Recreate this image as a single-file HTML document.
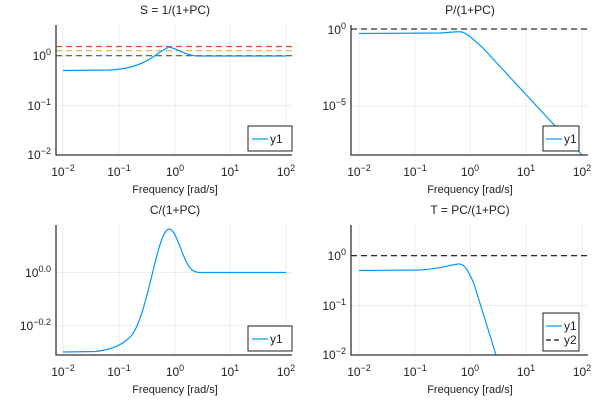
<!DOCTYPE html>
<html><head><meta charset="utf-8"><style>
body{margin:0;background:#fff}
svg{display:block;font-family:"Liberation Sans","DejaVu Sans",sans-serif}
.t{font-size:12px;fill:#222;text-anchor:middle}
.xl{font-size:11px;fill:#222;text-anchor:middle}
.tk{font-size:12px;fill:#222}
.g{stroke:#000;stroke-opacity:0.09;stroke-width:0.8}
.ax{stroke:#333;stroke-width:1.3;fill:none}
.b{stroke:#009AFA;stroke-width:1.2;fill:none}
.sup{font-size:9px}
</style></head><body>
<svg width="600" height="400" viewBox="0 0 600 400">
<!-- Panel 1 -->
<text class="t" x="175" y="14">S = 1/(1+PC)</text>
<g class="g"><line x1="63" y1="25" x2="63" y2="155"/><line x1="119" y1="25" x2="119" y2="155"/><line x1="175" y1="25" x2="175" y2="155"/><line x1="230" y1="25" x2="230" y2="155"/><line x1="286" y1="25" x2="286" y2="155"/>
<line x1="56" y1="56" x2="292" y2="56"/><line x1="56" y1="105.5" x2="292" y2="105.5"/></g>
<line x1="56" y1="46.5" x2="292" y2="46.5" stroke="#e8443a" stroke-width="1.2" stroke-dasharray="6,4"/>
<line x1="56" y1="50.7" x2="292" y2="50.7" stroke="#f2a93b" stroke-width="1.2" stroke-dasharray="6,4"/>
<line x1="56" y1="55.7" x2="292" y2="55.7" stroke="#1e7a1e" stroke-width="1.2" stroke-dasharray="6,4"/>
<path class="b" d="M63,70.5 L110,70 C130,69 145,64 160,52 L169,47 C178,49 185,55 197,56 L286,56"/>
<path class="ax" d="M56,25 V155 H292"/>
<g class="tk" text-anchor="end"><text x="51" y="60">10<tspan class="sup" dy="-5">0</tspan></text><text x="51" y="110">10<tspan class="sup" dy="-5">−1</tspan></text><text x="51" y="159">10<tspan class="sup" dy="-5">−2</tspan></text></g>
<g class="tk" text-anchor="middle"><text x="63" y="176">10<tspan class="sup" dy="-5">−2</tspan></text><text x="119" y="176">10<tspan class="sup" dy="-5">−1</tspan></text><text x="175" y="176">10<tspan class="sup" dy="-5">0</tspan></text><text x="230" y="176">10<tspan class="sup" dy="-5">1</tspan></text><text x="286" y="176">10<tspan class="sup" dy="-5">2</tspan></text></g>
<text class="xl" x="175" y="193">Frequency [rad/s]</text>
<rect x="248" y="126" width="44" height="25" fill="#fff" stroke="#222" stroke-width="1"/>
<line x1="252" y1="139" x2="268" y2="139" class="b"/><text class="tk" x="270" y="143">y1</text>

<!-- Panel 2 -->
<text class="t" x="470" y="14">P/(1+PC)</text>
<g class="g"><line x1="359" y1="25" x2="359" y2="155"/><line x1="415" y1="25" x2="415" y2="155"/><line x1="470" y1="25" x2="470" y2="155"/><line x1="526" y1="25" x2="526" y2="155"/><line x1="582" y1="25" x2="582" y2="155"/>
<line x1="351" y1="29" x2="588" y2="29"/><line x1="351" y1="106" x2="588" y2="106"/></g>
<line x1="351" y1="29" x2="588" y2="29" stroke="#333" stroke-width="1.2" stroke-dasharray="6,4"/>
<path class="b" d="M359,33.5 L440,33 C452,32.5 458,31 462,32 C468,34 474,40 482,47 L582,155"/>
<path class="ax" d="M351,25 V155 H588"/>
<g class="tk" text-anchor="end"><text x="346" y="34">10<tspan class="sup" dy="-5">0</tspan></text><text x="346" y="110">10<tspan class="sup" dy="-5">−5</tspan></text></g>
<g class="tk" text-anchor="middle"><text x="359" y="176">10<tspan class="sup" dy="-5">−2</tspan></text><text x="415" y="176">10<tspan class="sup" dy="-5">−1</tspan></text><text x="470" y="176">10<tspan class="sup" dy="-5">0</tspan></text><text x="526" y="176">10<tspan class="sup" dy="-5">1</tspan></text><text x="582" y="176">10<tspan class="sup" dy="-5">2</tspan></text></g>
<text class="xl" x="470" y="193">Frequency [rad/s]</text>
<rect x="543" y="126" width="36" height="25" fill="#fff" stroke="#222" stroke-width="1"/>
<line x1="546" y1="139" x2="562" y2="139" class="b"/><text class="tk" x="564" y="143">y1</text>

<!-- Panel 3 -->
<text class="t" x="175" y="214">C/(1+PC)</text>
<g class="g"><line x1="63" y1="225" x2="63" y2="355"/><line x1="119" y1="225" x2="119" y2="355"/><line x1="175" y1="225" x2="175" y2="355"/><line x1="230" y1="225" x2="230" y2="355"/><line x1="286" y1="225" x2="286" y2="355"/>
<line x1="56" y1="272.5" x2="292" y2="272.5"/><line x1="56" y1="325.7" x2="292" y2="325.7"/></g>
<path class="b" d="M63,352 L95,351.5 C110,350 122,346 132,335 C148,312 156,240 167,230 C176,223 182,262 192,270 C196,273 200,272.5 205,272.5 L286,272.5"/>
<path class="ax" d="M56,225 V355 H292"/>
<g class="tk" text-anchor="end"><text x="51" y="277">10<tspan class="sup" dy="-5">0.0</tspan></text><text x="51" y="330">10<tspan class="sup" dy="-5">−0.2</tspan></text></g>
<g class="tk" text-anchor="middle"><text x="63" y="376">10<tspan class="sup" dy="-5">−2</tspan></text><text x="119" y="376">10<tspan class="sup" dy="-5">−1</tspan></text><text x="175" y="376">10<tspan class="sup" dy="-5">0</tspan></text><text x="230" y="376">10<tspan class="sup" dy="-5">1</tspan></text><text x="286" y="376">10<tspan class="sup" dy="-5">2</tspan></text></g>
<text class="xl" x="175" y="393">Frequency [rad/s]</text>
<rect x="248" y="326" width="44" height="25" fill="#fff" stroke="#222" stroke-width="1"/>
<line x1="252" y1="339" x2="268" y2="339" class="b"/><text class="tk" x="270" y="343">y1</text>

<!-- Panel 4 -->
<text class="t" x="470" y="214">T = PC/(1+PC)</text>
<g class="g"><line x1="359" y1="225" x2="359" y2="355"/><line x1="415" y1="225" x2="415" y2="355"/><line x1="470" y1="225" x2="470" y2="355"/><line x1="526" y1="225" x2="526" y2="355"/><line x1="582" y1="225" x2="582" y2="355"/>
<line x1="351" y1="255.7" x2="588" y2="255.7"/><line x1="351" y1="305.5" x2="588" y2="305.5"/></g>
<line x1="351" y1="255.7" x2="588" y2="255.7" stroke="#111" stroke-width="1.2" stroke-dasharray="6,4"/>
<path class="b" d="M359,270.5 L420,270 C440,269 450,265 458,264 C464,263 468,270 474,284 L496,355"/>
<path class="ax" d="M351,225 V355 H588"/>
<g class="tk" text-anchor="end"><text x="346" y="260">10<tspan class="sup" dy="-5">0</tspan></text><text x="346" y="310">10<tspan class="sup" dy="-5">−1</tspan></text><text x="346" y="359">10<tspan class="sup" dy="-5">−2</tspan></text></g>
<g class="tk" text-anchor="middle"><text x="359" y="376">10<tspan class="sup" dy="-5">−2</tspan></text><text x="415" y="376">10<tspan class="sup" dy="-5">−1</tspan></text><text x="470" y="376">10<tspan class="sup" dy="-5">0</tspan></text><text x="526" y="376">10<tspan class="sup" dy="-5">1</tspan></text><text x="582" y="376">10<tspan class="sup" dy="-5">2</tspan></text></g>
<text class="xl" x="470" y="393">Frequency [rad/s]</text>
<rect x="543" y="313" width="36" height="38" fill="#fff" stroke="#222" stroke-width="1"/>
<line x1="546" y1="326" x2="562" y2="326" class="b"/><text class="tk" x="564" y="330">y1</text>
<line x1="546" y1="340" x2="562" y2="340" stroke="#111" stroke-width="1.2" stroke-dasharray="5,3"/><text class="tk" x="564" y="344">y2</text>
</svg>
</body></html>
